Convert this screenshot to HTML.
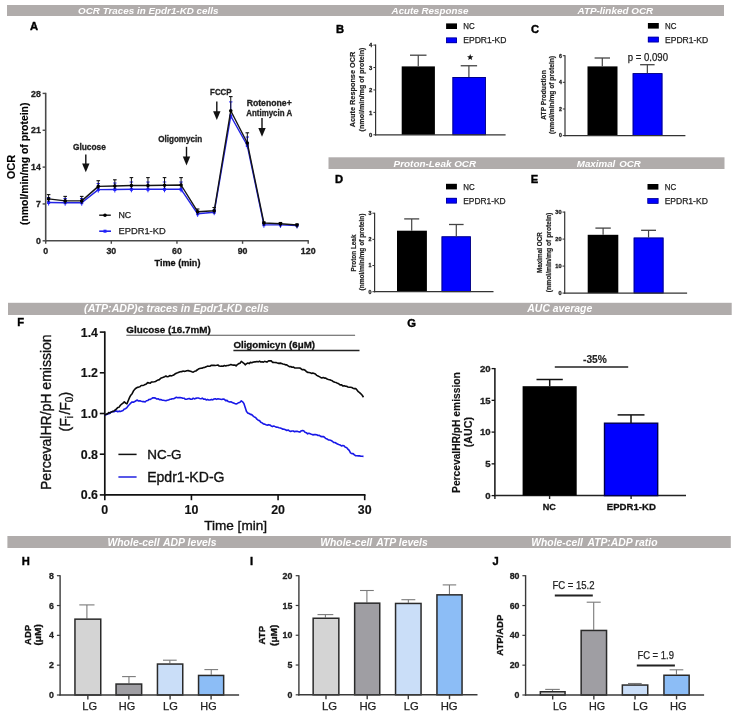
<!DOCTYPE html><html><head><meta charset="utf-8"><style>html,body{margin:0;padding:0;background:#fff;width:733px;height:716px;overflow:hidden}svg{display:block;will-change:transform}text{font-family:"Liberation Sans", sans-serif}</style></head><body><svg width="733" height="716" viewBox="0 0 733 716"><rect x="7" y="5" width="717" height="11" fill="#b0acab"/>
<rect x="328.5" y="157.3" width="396" height="11.7" fill="#b0acab"/>
<rect x="8" y="302.8" width="723.7" height="12.2" fill="#b0acab"/>
<rect x="7.4" y="536" width="723.4" height="12" fill="#b0acab"/>
<text x="78.1" y="14.3" font-size="9.9" font-weight="bold" font-style="italic" text-anchor="start" fill="#fff" textLength="140.4" lengthAdjust="spacingAndGlyphs">OCR Traces in Epdr1-KD cells</text>
<text x="391.6" y="14" font-size="9.9" font-weight="bold" font-style="italic" text-anchor="start" fill="#fff" textLength="76.8" lengthAdjust="spacingAndGlyphs">Acute Response</text>
<text x="577.5" y="14" font-size="9.9" font-weight="bold" font-style="italic" text-anchor="start" fill="#fff" textLength="75.7" lengthAdjust="spacingAndGlyphs">ATP-linked OCR</text>
<text x="393.6" y="167" font-size="9.9" font-weight="bold" font-style="italic" text-anchor="start" fill="#fff" textLength="82.6" lengthAdjust="spacingAndGlyphs">Proton-Leak OCR</text>
<text x="576.8" y="167" font-size="9.9" font-weight="bold" font-style="italic" text-anchor="start" fill="#fff" textLength="64.1" lengthAdjust="spacingAndGlyphs">Maximal <tspan dx="1.2">OCR</tspan></text>
<text x="84.1" y="312.3" font-size="10.6" font-weight="bold" font-style="italic" text-anchor="start" fill="#fff" textLength="184.7" lengthAdjust="spacingAndGlyphs">(ATP:ADP)c traces in Epdr1-KD cells</text>
<text x="527.3" y="312.2" font-size="10.5" font-weight="bold" font-style="italic" text-anchor="start" fill="#fff" textLength="65" lengthAdjust="spacingAndGlyphs">AUC average</text>
<text x="107.4" y="545.6" font-size="10.5" font-weight="bold" font-style="italic" text-anchor="start" fill="#fff" textLength="109.1" lengthAdjust="spacingAndGlyphs">Whole-cell <tspan dx="0.8">ADP levels</tspan></text>
<text x="320.2" y="545.6" font-size="10.5" font-weight="bold" font-style="italic" text-anchor="start" fill="#fff" textLength="107.5" lengthAdjust="spacingAndGlyphs">Whole-cell <tspan dx="1.5">ATP levels</tspan></text>
<text x="531.3" y="545.6" font-size="10.5" font-weight="bold" font-style="italic" text-anchor="start" fill="#fff" textLength="126.2" lengthAdjust="spacingAndGlyphs">Whole-cell <tspan dx="2">ATP:ADP ratio</tspan></text>
<text x="30" y="29.9" font-size="11.2" font-weight="bold" font-style="normal" text-anchor="start" fill="#000" stroke="#000" stroke-width="0.4">A</text>
<text x="335.9" y="33.4" font-size="11.2" font-weight="bold" font-style="normal" text-anchor="start" fill="#000" stroke="#000" stroke-width="0.4">B</text>
<text x="530.9" y="32.9" font-size="11.2" font-weight="bold" font-style="normal" text-anchor="start" fill="#000" stroke="#000" stroke-width="0.4">C</text>
<text x="335.1" y="183.2" font-size="11.2" font-weight="bold" font-style="normal" text-anchor="start" fill="#000" stroke="#000" stroke-width="0.4">D</text>
<text x="530.7" y="182.7" font-size="11.2" font-weight="bold" font-style="normal" text-anchor="start" fill="#000" stroke="#000" stroke-width="0.4">E</text>
<text x="17.2" y="326" font-size="11.2" font-weight="bold" font-style="normal" text-anchor="start" fill="#000" stroke="#000" stroke-width="0.4">F</text>
<text x="407.2" y="327.1" font-size="11.2" font-weight="bold" font-style="normal" text-anchor="start" fill="#000" stroke="#000" stroke-width="0.4">G</text>
<text x="21.8" y="564.8" font-size="11.2" font-weight="bold" font-style="normal" text-anchor="start" fill="#000" stroke="#000" stroke-width="0.4">H</text>
<text x="250.1" y="565.1" font-size="11.2" font-weight="bold" font-style="normal" text-anchor="start" fill="#000" stroke="#000" stroke-width="0.4">I</text>
<text x="492.4" y="565.1" font-size="11.2" font-weight="bold" font-style="normal" text-anchor="start" fill="#000" stroke="#000" stroke-width="0.4">J</text>
<line x1="45.7" y1="92.8" x2="45.7" y2="241.6" stroke="#4a4a4a" stroke-width="1.6"/>
<line x1="44.9" y1="240.8" x2="308.8" y2="240.8" stroke="#4a4a4a" stroke-width="1.6"/>
<line x1="42.6" y1="240.8" x2="45.7" y2="240.8" stroke="#4a4a4a" stroke-width="1.4"/>
<text x="40.8" y="243.9" font-size="8.8" font-weight="bold" font-style="normal" text-anchor="end" fill="#222" stroke="#222" stroke-width="0.3">0</text>
<line x1="42.6" y1="203.95" x2="45.7" y2="203.95" stroke="#4a4a4a" stroke-width="1.4"/>
<text x="40.8" y="207.05" font-size="8.8" font-weight="bold" font-style="normal" text-anchor="end" fill="#222" stroke="#222" stroke-width="0.3">7</text>
<line x1="42.6" y1="167.1" x2="45.7" y2="167.1" stroke="#4a4a4a" stroke-width="1.4"/>
<text x="40.8" y="170.2" font-size="8.8" font-weight="bold" font-style="normal" text-anchor="end" fill="#222" stroke="#222" stroke-width="0.3">14</text>
<line x1="42.6" y1="130.25" x2="45.7" y2="130.25" stroke="#4a4a4a" stroke-width="1.4"/>
<text x="40.8" y="133.35" font-size="8.8" font-weight="bold" font-style="normal" text-anchor="end" fill="#222" stroke="#222" stroke-width="0.3">21</text>
<line x1="42.6" y1="93.4" x2="45.7" y2="93.4" stroke="#4a4a4a" stroke-width="1.4"/>
<text x="40.8" y="96.5" font-size="8.8" font-weight="bold" font-style="normal" text-anchor="end" fill="#222" stroke="#222" stroke-width="0.3">28</text>
<line x1="45.7" y1="240.8" x2="45.7" y2="243.8" stroke="#4a4a4a" stroke-width="1.4"/>
<text x="45.7" y="253.9" font-size="8.8" font-weight="bold" font-style="normal" text-anchor="middle" fill="#222" stroke="#222" stroke-width="0.3">0</text>
<line x1="111.33" y1="240.8" x2="111.33" y2="243.8" stroke="#4a4a4a" stroke-width="1.4"/>
<text x="111.33" y="253.9" font-size="8.8" font-weight="bold" font-style="normal" text-anchor="middle" fill="#222" stroke="#222" stroke-width="0.3">30</text>
<line x1="176.95" y1="240.8" x2="176.95" y2="243.8" stroke="#4a4a4a" stroke-width="1.4"/>
<text x="176.95" y="253.9" font-size="8.8" font-weight="bold" font-style="normal" text-anchor="middle" fill="#222" stroke="#222" stroke-width="0.3">60</text>
<line x1="242.57" y1="240.8" x2="242.57" y2="243.8" stroke="#4a4a4a" stroke-width="1.4"/>
<text x="242.57" y="253.9" font-size="8.8" font-weight="bold" font-style="normal" text-anchor="middle" fill="#222" stroke="#222" stroke-width="0.3">90</text>
<line x1="308.2" y1="240.8" x2="308.2" y2="243.8" stroke="#4a4a4a" stroke-width="1.4"/>
<text x="308.2" y="253.9" font-size="8.8" font-weight="bold" font-style="normal" text-anchor="middle" fill="#222" stroke="#222" stroke-width="0.3">120</text>
<text x="177.5" y="265.6" font-size="9.1" font-weight="bold" font-style="normal" text-anchor="middle" fill="#111" stroke="#111" stroke-width="0.3">Time (min)</text>
<text x="0" y="0" transform="translate(15.4,167.1) rotate(-90)" font-size="11" font-weight="bold" font-style="normal" text-anchor="middle" fill="#000" stroke="#000" stroke-width="0.15">OCR</text>
<text x="0" y="0" transform="translate(28.2,163.8) rotate(-90)" font-size="10.4" font-weight="bold" font-style="normal" text-anchor="middle" fill="#000" stroke="#000" stroke-width="0.15">(nmol/min/mg of protein)</text>
<line x1="48.6" y1="197.5" x2="48.6" y2="205.5" stroke="#2020ff" stroke-width="1"/>
<line x1="46.9" y1="197.5" x2="50.3" y2="197.5" stroke="#2020ff" stroke-width="1"/>
<line x1="65.16" y1="198.5" x2="65.16" y2="205.7" stroke="#2020ff" stroke-width="1"/>
<line x1="63.46" y1="198.5" x2="66.86" y2="198.5" stroke="#2020ff" stroke-width="1"/>
<line x1="81.72" y1="198.5" x2="81.72" y2="205.7" stroke="#2020ff" stroke-width="1"/>
<line x1="80.02" y1="198.5" x2="83.42" y2="198.5" stroke="#2020ff" stroke-width="1"/>
<line x1="98.28" y1="183.5" x2="98.28" y2="192.6" stroke="#2020ff" stroke-width="1"/>
<line x1="96.58" y1="183.5" x2="99.98" y2="183.5" stroke="#2020ff" stroke-width="1"/>
<line x1="114.84" y1="183" x2="114.84" y2="192.5" stroke="#2020ff" stroke-width="1"/>
<line x1="113.14" y1="183" x2="116.54" y2="183" stroke="#2020ff" stroke-width="1"/>
<line x1="131.4" y1="182" x2="131.4" y2="192.3" stroke="#2020ff" stroke-width="1"/>
<line x1="129.7" y1="182" x2="133.1" y2="182" stroke="#2020ff" stroke-width="1"/>
<line x1="147.96" y1="182" x2="147.96" y2="192.3" stroke="#2020ff" stroke-width="1"/>
<line x1="146.26" y1="182" x2="149.66" y2="182" stroke="#2020ff" stroke-width="1"/>
<line x1="164.52" y1="182" x2="164.52" y2="192.3" stroke="#2020ff" stroke-width="1"/>
<line x1="162.82" y1="182" x2="166.22" y2="182" stroke="#2020ff" stroke-width="1"/>
<line x1="181.08" y1="182" x2="181.08" y2="192.3" stroke="#2020ff" stroke-width="1"/>
<line x1="179.38" y1="182" x2="182.78" y2="182" stroke="#2020ff" stroke-width="1"/>
<line x1="197.64" y1="211.5" x2="197.64" y2="216.8" stroke="#2020ff" stroke-width="1"/>
<line x1="195.94" y1="211.5" x2="199.34" y2="211.5" stroke="#2020ff" stroke-width="1"/>
<line x1="214.2" y1="210" x2="214.2" y2="215.2" stroke="#2020ff" stroke-width="1"/>
<line x1="212.5" y1="210" x2="215.9" y2="210" stroke="#2020ff" stroke-width="1"/>
<line x1="230.76" y1="101.9" x2="230.76" y2="119" stroke="#2020ff" stroke-width="1"/>
<line x1="229.06" y1="101.9" x2="232.46" y2="101.9" stroke="#2020ff" stroke-width="1"/>
<line x1="247.32" y1="137" x2="247.32" y2="148.5" stroke="#2020ff" stroke-width="1"/>
<line x1="245.62" y1="137" x2="249.02" y2="137" stroke="#2020ff" stroke-width="1"/>
<line x1="263.88" y1="223.5" x2="263.88" y2="227.7" stroke="#2020ff" stroke-width="1"/>
<line x1="262.18" y1="223.5" x2="265.58" y2="223.5" stroke="#2020ff" stroke-width="1"/>
<line x1="280.44" y1="224" x2="280.44" y2="227.9" stroke="#2020ff" stroke-width="1"/>
<line x1="278.74" y1="224" x2="282.14" y2="224" stroke="#2020ff" stroke-width="1"/>
<line x1="297" y1="224.5" x2="297" y2="228.5" stroke="#2020ff" stroke-width="1"/>
<line x1="295.3" y1="224.5" x2="298.7" y2="224.5" stroke="#2020ff" stroke-width="1"/>
<polyline points="48.6,202.5 65.16,202.7 81.72,202.7 98.28,189.6 114.84,189.5 131.4,189.3 147.96,189.3 164.52,189.3 181.08,189.3 197.64,213.8 214.2,212.2 230.76,116 247.32,145.5 263.88,224.7 280.44,224.9 297,225.5" fill="none" stroke="#2323e6" stroke-width="1.45" stroke-linejoin="round" />
<rect x="47.1" y="201" width="3" height="3" fill="#2020ff"/>
<rect x="63.66" y="201.2" width="3" height="3" fill="#2020ff"/>
<rect x="80.22" y="201.2" width="3" height="3" fill="#2020ff"/>
<rect x="96.78" y="188.1" width="3" height="3" fill="#2020ff"/>
<rect x="113.34" y="188" width="3" height="3" fill="#2020ff"/>
<rect x="129.9" y="187.8" width="3" height="3" fill="#2020ff"/>
<rect x="146.46" y="187.8" width="3" height="3" fill="#2020ff"/>
<rect x="163.02" y="187.8" width="3" height="3" fill="#2020ff"/>
<rect x="179.58" y="187.8" width="3" height="3" fill="#2020ff"/>
<rect x="196.14" y="212.3" width="3" height="3" fill="#2020ff"/>
<rect x="212.7" y="210.7" width="3" height="3" fill="#2020ff"/>
<rect x="229.26" y="114.5" width="3" height="3" fill="#2020ff"/>
<rect x="245.82" y="144" width="3" height="3" fill="#2020ff"/>
<rect x="262.38" y="223.2" width="3" height="3" fill="#2020ff"/>
<rect x="278.94" y="223.4" width="3" height="3" fill="#2020ff"/>
<rect x="295.5" y="224" width="3" height="3" fill="#2020ff"/>
<line x1="48.6" y1="194.6" x2="48.6" y2="201.9" stroke="#111" stroke-width="1"/>
<line x1="46.8" y1="194.6" x2="50.4" y2="194.6" stroke="#111" stroke-width="1.1"/>
<line x1="65.16" y1="196.4" x2="65.16" y2="203.9" stroke="#111" stroke-width="1"/>
<line x1="63.36" y1="196.4" x2="66.96" y2="196.4" stroke="#111" stroke-width="1.1"/>
<line x1="81.72" y1="196.4" x2="81.72" y2="203.9" stroke="#111" stroke-width="1"/>
<line x1="79.92" y1="196.4" x2="83.52" y2="196.4" stroke="#111" stroke-width="1.1"/>
<line x1="98.28" y1="180.7" x2="98.28" y2="189.4" stroke="#111" stroke-width="1"/>
<line x1="96.48" y1="180.7" x2="100.08" y2="180.7" stroke="#111" stroke-width="1.1"/>
<line x1="114.84" y1="179.8" x2="114.84" y2="189" stroke="#111" stroke-width="1"/>
<line x1="113.04" y1="179.8" x2="116.64" y2="179.8" stroke="#111" stroke-width="1.1"/>
<line x1="131.4" y1="177.6" x2="131.4" y2="188.5" stroke="#111" stroke-width="1"/>
<line x1="129.6" y1="177.6" x2="133.2" y2="177.6" stroke="#111" stroke-width="1.1"/>
<line x1="147.96" y1="177.6" x2="147.96" y2="188.5" stroke="#111" stroke-width="1"/>
<line x1="146.16" y1="177.6" x2="149.76" y2="177.6" stroke="#111" stroke-width="1.1"/>
<line x1="164.52" y1="177.6" x2="164.52" y2="188.3" stroke="#111" stroke-width="1"/>
<line x1="162.72" y1="177.6" x2="166.32" y2="177.6" stroke="#111" stroke-width="1.1"/>
<line x1="181.08" y1="177.6" x2="181.08" y2="188" stroke="#111" stroke-width="1"/>
<line x1="179.28" y1="177.6" x2="182.88" y2="177.6" stroke="#111" stroke-width="1.1"/>
<line x1="197.64" y1="209" x2="197.64" y2="214.7" stroke="#111" stroke-width="1"/>
<line x1="195.84" y1="209" x2="199.44" y2="209" stroke="#111" stroke-width="1.1"/>
<line x1="214.2" y1="207.5" x2="214.2" y2="213.8" stroke="#111" stroke-width="1"/>
<line x1="212.4" y1="207.5" x2="216" y2="207.5" stroke="#111" stroke-width="1.1"/>
<line x1="230.76" y1="96.6" x2="230.76" y2="113.7" stroke="#111" stroke-width="1"/>
<line x1="228.96" y1="96.6" x2="232.56" y2="96.6" stroke="#111" stroke-width="1.1"/>
<line x1="247.32" y1="132.8" x2="247.32" y2="146" stroke="#111" stroke-width="1"/>
<line x1="245.52" y1="132.8" x2="249.12" y2="132.8" stroke="#111" stroke-width="1.1"/>
<line x1="263.88" y1="222" x2="263.88" y2="226" stroke="#111" stroke-width="1"/>
<line x1="262.08" y1="222" x2="265.68" y2="222" stroke="#111" stroke-width="1.1"/>
<line x1="280.44" y1="222.5" x2="280.44" y2="226.7" stroke="#111" stroke-width="1"/>
<line x1="278.64" y1="222.5" x2="282.24" y2="222.5" stroke="#111" stroke-width="1.1"/>
<line x1="297" y1="224" x2="297" y2="228" stroke="#111" stroke-width="1"/>
<line x1="295.2" y1="224" x2="298.8" y2="224" stroke="#111" stroke-width="1.1"/>
<polyline points="48.6,198.9 65.16,200.9 81.72,200.9 98.28,186.4 114.84,186 131.4,185.5 147.96,185.5 164.52,185.3 181.08,185 197.64,211.7 214.2,210.8 230.76,110.7 247.32,143 263.88,223 280.44,223.7 297,225" fill="none" stroke="#151515" stroke-width="1.4" stroke-linejoin="round" />
<circle cx="48.6" cy="198.9" r="1.8" fill="#000"/>
<circle cx="65.16" cy="200.9" r="1.8" fill="#000"/>
<circle cx="81.72" cy="200.9" r="1.8" fill="#000"/>
<circle cx="98.28" cy="186.4" r="1.8" fill="#000"/>
<circle cx="114.84" cy="186" r="1.8" fill="#000"/>
<circle cx="131.4" cy="185.5" r="1.8" fill="#000"/>
<circle cx="147.96" cy="185.5" r="1.8" fill="#000"/>
<circle cx="164.52" cy="185.3" r="1.8" fill="#000"/>
<circle cx="181.08" cy="185" r="1.8" fill="#000"/>
<circle cx="197.64" cy="211.7" r="1.8" fill="#000"/>
<circle cx="214.2" cy="210.8" r="1.8" fill="#000"/>
<circle cx="230.76" cy="110.7" r="1.8" fill="#000"/>
<circle cx="247.32" cy="143" r="1.8" fill="#000"/>
<circle cx="263.88" cy="223" r="1.8" fill="#000"/>
<circle cx="280.44" cy="223.7" r="1.8" fill="#000"/>
<circle cx="297" cy="225" r="1.8" fill="#000"/>
<line x1="99.2" y1="215.2" x2="110.8" y2="215.2" stroke="#111" stroke-width="1.4"/>
<circle cx="105" cy="215.2" r="1.8" fill="#000"/>
<text x="118.5" y="218.4" font-size="8.8" font-weight="normal" font-style="normal" text-anchor="start" fill="#222" stroke="#222" stroke-width="0.25">NC</text>
<line x1="99.2" y1="231.2" x2="111" y2="231.2" stroke="#2323e6" stroke-width="1.6"/>
<rect x="103.5" y="229.7" width="3" height="3" fill="#2020ff"/>
<text x="118.5" y="234.4" font-size="9" font-weight="normal" font-style="normal" text-anchor="start" fill="#222" textLength="47.2" lengthAdjust="spacingAndGlyphs" stroke="#222" stroke-width="0.25">EPDR1-KD</text>
<text x="72.9" y="149.5" font-size="8.5" font-weight="bold" font-style="normal" text-anchor="start" fill="#222" textLength="33" lengthAdjust="spacingAndGlyphs" stroke="#222" stroke-width="0.3">Glucose</text>
<line x1="85.8" y1="154.6" x2="85.8" y2="164.4" stroke="#111" stroke-width="1.4"/>
<path d="M82.1,163.4 L89.5,163.4 L85.8,172.2 Z" fill="#111"/>
<text x="158.2" y="142.3" font-size="8.5" font-weight="bold" font-style="normal" text-anchor="start" fill="#222" textLength="44" lengthAdjust="spacingAndGlyphs" stroke="#222" stroke-width="0.3">Oligomycin</text>
<line x1="186.5" y1="146.8" x2="186.5" y2="157.6" stroke="#111" stroke-width="1.4"/>
<path d="M182.8,156.6 L190.2,156.6 L186.5,165.4 Z" fill="#111"/>
<text x="210.1" y="95.3" font-size="8.5" font-weight="bold" font-style="normal" text-anchor="start" fill="#222" textLength="21.5" lengthAdjust="spacingAndGlyphs" stroke="#222" stroke-width="0.3">FCCP</text>
<line x1="216.8" y1="101.5" x2="216.8" y2="112.3" stroke="#111" stroke-width="1.4"/>
<path d="M213.1,111.3 L220.5,111.3 L216.8,120.1 Z" fill="#111"/>
<text x="246.7" y="106.4" font-size="8.5" font-weight="bold" font-style="normal" text-anchor="start" fill="#222" textLength="45" lengthAdjust="spacingAndGlyphs" stroke="#222" stroke-width="0.3">Rotenone+</text>
<text x="246.3" y="115.8" font-size="8.5" font-weight="bold" font-style="normal" text-anchor="start" fill="#222" textLength="45.8" lengthAdjust="spacingAndGlyphs" stroke="#222" stroke-width="0.3">Antimycin A</text>
<line x1="262" y1="118.1" x2="262" y2="128.9" stroke="#111" stroke-width="1.4"/>
<path d="M258.3,127.9 L265.7,127.9 L262,136.7 Z" fill="#111"/>
<rect x="401.7" y="66.4" width="33.2" height="68.4" fill="#000"/>
<line x1="418.25" y1="55.2" x2="418.25" y2="66.4" stroke="#444" stroke-width="1.2"/>
<line x1="410" y1="55.2" x2="426.5" y2="55.2" stroke="#444" stroke-width="1.3"/>
<rect x="452.5" y="77" width="33.3" height="57.8" fill="#0000ff"/>
<rect x="452.9" y="77.4" width="32.5" height="57.4" fill="none" stroke="#000070" stroke-width="0.8"/>
<line x1="468.9" y1="65.75" x2="468.9" y2="77" stroke="#444" stroke-width="1.2"/>
<line x1="460.7" y1="65.75" x2="477.1" y2="65.75" stroke="#444" stroke-width="1.3"/>
<line x1="375.6" y1="44.6" x2="375.6" y2="135.4" stroke="#333" stroke-width="1.2"/>
<line x1="375" y1="134.8" x2="505.6" y2="134.8" stroke="#333" stroke-width="1.2"/>
<line x1="373.4" y1="134.8" x2="375.6" y2="134.8" stroke="#333" stroke-width="1"/>
<text x="372.4" y="136.92" font-size="5.9" font-weight="bold" font-style="normal" text-anchor="end" fill="#222" stroke="#222" stroke-width="0.3">0</text>
<line x1="373.4" y1="112.38" x2="375.6" y2="112.38" stroke="#333" stroke-width="1"/>
<text x="372.4" y="114.5" font-size="5.9" font-weight="bold" font-style="normal" text-anchor="end" fill="#222" stroke="#222" stroke-width="0.3">1</text>
<line x1="373.4" y1="89.95" x2="375.6" y2="89.95" stroke="#333" stroke-width="1"/>
<text x="372.4" y="92.07" font-size="5.9" font-weight="bold" font-style="normal" text-anchor="end" fill="#222" stroke="#222" stroke-width="0.3">2</text>
<line x1="373.4" y1="67.53" x2="375.6" y2="67.53" stroke="#333" stroke-width="1"/>
<text x="372.4" y="69.65" font-size="5.9" font-weight="bold" font-style="normal" text-anchor="end" fill="#222" stroke="#222" stroke-width="0.3">3</text>
<line x1="373.4" y1="45.1" x2="375.6" y2="45.1" stroke="#333" stroke-width="1"/>
<text x="372.4" y="47.22" font-size="5.9" font-weight="bold" font-style="normal" text-anchor="end" fill="#222" stroke="#222" stroke-width="0.3">4</text>
<text x="0" y="0" transform="translate(354.9,89.5) rotate(-90)" font-size="7.3" font-weight="bold" font-style="normal" text-anchor="middle" fill="#222" textLength="75.5" lengthAdjust="spacingAndGlyphs" stroke="#222" stroke-width="0.18">Acute Response OCR</text>
<text x="0" y="0" transform="translate(363.8,89.5) rotate(-90)" font-size="7.1" font-weight="bold" font-style="normal" text-anchor="middle" fill="#222" textLength="83.8" lengthAdjust="spacingAndGlyphs" stroke="#222" stroke-width="0.18">(nmol/min/mg of protein)</text>
<rect x="446.1" y="23.4" width="10.9" height="5.6" fill="#000"/>
<rect x="446.1" y="37.6" width="10.9" height="5.5" fill="#0000ff"/>
<rect x="446.4" y="37.9" width="10.3" height="4.9" fill="none" stroke="#000070" stroke-width="0.6"/>
<text x="463.3" y="29.2" font-size="8.9" font-weight="normal" font-style="normal" text-anchor="start" fill="#222" textLength="11.4" lengthAdjust="spacingAndGlyphs" stroke="#222" stroke-width="0.25">NC</text>
<text x="463.3" y="43.3" font-size="8.5" font-weight="normal" font-style="normal" text-anchor="start" fill="#222" textLength="43.1" lengthAdjust="spacingAndGlyphs" stroke="#222" stroke-width="0.25">EPDR1-KD</text>
<path d="M470.2,54 L471.05,56.13 L473.34,56.28 L471.58,57.75 L472.14,59.97 L470.2,58.75 L468.26,59.97 L468.82,57.75 L467.06,56.28 L469.35,56.13 Z" fill="#111"/>
<rect x="587.5" y="66.4" width="30" height="69.2" fill="#000"/>
<line x1="602.3" y1="58" x2="602.3" y2="66.4" stroke="#444" stroke-width="1.2"/>
<line x1="594.6" y1="58" x2="610" y2="58" stroke="#444" stroke-width="1.3"/>
<rect x="632.7" y="73.2" width="29.7" height="62.4" fill="#0000ff"/>
<rect x="633.1" y="73.6" width="28.9" height="62" fill="none" stroke="#000070" stroke-width="0.8"/>
<line x1="647.35" y1="64.7" x2="647.35" y2="73.2" stroke="#444" stroke-width="1.2"/>
<line x1="640.1" y1="64.7" x2="654.6" y2="64.7" stroke="#444" stroke-width="1.3"/>
<line x1="565" y1="55.2" x2="565" y2="136.2" stroke="#333" stroke-width="1.2"/>
<line x1="564.4" y1="135.6" x2="685.4" y2="135.6" stroke="#333" stroke-width="1.2"/>
<line x1="562.8" y1="135.6" x2="565" y2="135.6" stroke="#333" stroke-width="1"/>
<text x="561.8" y="137.47" font-size="5.2" font-weight="bold" font-style="normal" text-anchor="end" fill="#222" stroke="#222" stroke-width="0.3">0</text>
<line x1="562.8" y1="108.97" x2="565" y2="108.97" stroke="#333" stroke-width="1"/>
<text x="561.8" y="110.84" font-size="5.2" font-weight="bold" font-style="normal" text-anchor="end" fill="#222" stroke="#222" stroke-width="0.3">2</text>
<line x1="562.8" y1="82.33" x2="565" y2="82.33" stroke="#333" stroke-width="1"/>
<text x="561.8" y="84.21" font-size="5.2" font-weight="bold" font-style="normal" text-anchor="end" fill="#222" stroke="#222" stroke-width="0.3">4</text>
<line x1="562.8" y1="55.7" x2="565" y2="55.7" stroke="#333" stroke-width="1"/>
<text x="561.8" y="57.57" font-size="5.2" font-weight="bold" font-style="normal" text-anchor="end" fill="#222" stroke="#222" stroke-width="0.3">6</text>
<text x="0" y="0" transform="translate(545.6,95) rotate(-90)" font-size="6.6" font-weight="bold" font-style="normal" text-anchor="middle" fill="#222" textLength="49.4" lengthAdjust="spacingAndGlyphs" stroke="#222" stroke-width="0.18">ATP Production</text>
<text x="0" y="0" transform="translate(554,95) rotate(-90)" font-size="6.6" font-weight="bold" font-style="normal" text-anchor="middle" fill="#222" textLength="78" lengthAdjust="spacingAndGlyphs" stroke="#222" stroke-width="0.18">(nmol/min/mg of protein)</text>
<rect x="647.9" y="23" width="10.9" height="5.6" fill="#000"/>
<rect x="647.9" y="36.8" width="10.9" height="5.5" fill="#0000ff"/>
<rect x="648.2" y="37.1" width="10.3" height="4.9" fill="none" stroke="#000070" stroke-width="0.6"/>
<text x="665" y="28.8" font-size="8.9" font-weight="normal" font-style="normal" text-anchor="start" fill="#222" textLength="11.4" lengthAdjust="spacingAndGlyphs" stroke="#222" stroke-width="0.25">NC</text>
<text x="665" y="42.5" font-size="8.5" font-weight="normal" font-style="normal" text-anchor="start" fill="#222" textLength="43.2" lengthAdjust="spacingAndGlyphs" stroke="#222" stroke-width="0.25">EPDR1-KD</text>
<text x="627.7" y="61.1" font-size="10" font-weight="normal" font-style="normal" text-anchor="start" fill="#222" textLength="40.3" lengthAdjust="spacingAndGlyphs" stroke="#222" stroke-width="0.25">p = 0.090</text>
<rect x="397" y="230.7" width="29.9" height="61" fill="#000"/>
<line x1="411.7" y1="218.9" x2="411.7" y2="230.7" stroke="#444" stroke-width="1.2"/>
<line x1="404.2" y1="218.9" x2="419.2" y2="218.9" stroke="#444" stroke-width="1.3"/>
<rect x="441.6" y="236.4" width="29.2" height="55.3" fill="#0000ff"/>
<rect x="442" y="236.8" width="28.4" height="54.9" fill="none" stroke="#000070" stroke-width="0.8"/>
<line x1="456.3" y1="224.5" x2="456.3" y2="236.4" stroke="#444" stroke-width="1.2"/>
<line x1="449" y1="224.5" x2="463.6" y2="224.5" stroke="#444" stroke-width="1.3"/>
<line x1="374.6" y1="212.7" x2="374.6" y2="292.3" stroke="#333" stroke-width="1.2"/>
<line x1="374" y1="291.7" x2="493.5" y2="291.7" stroke="#333" stroke-width="1.2"/>
<line x1="372.4" y1="291.7" x2="374.6" y2="291.7" stroke="#333" stroke-width="1"/>
<text x="371.4" y="293.61" font-size="5.3" font-weight="bold" font-style="normal" text-anchor="end" fill="#222" stroke="#222" stroke-width="0.3">0</text>
<line x1="372.4" y1="265.53" x2="374.6" y2="265.53" stroke="#333" stroke-width="1"/>
<text x="371.4" y="267.44" font-size="5.3" font-weight="bold" font-style="normal" text-anchor="end" fill="#222" stroke="#222" stroke-width="0.3">1</text>
<line x1="372.4" y1="239.37" x2="374.6" y2="239.37" stroke="#333" stroke-width="1"/>
<text x="371.4" y="241.27" font-size="5.3" font-weight="bold" font-style="normal" text-anchor="end" fill="#222" stroke="#222" stroke-width="0.3">2</text>
<line x1="372.4" y1="213.2" x2="374.6" y2="213.2" stroke="#333" stroke-width="1"/>
<text x="371.4" y="215.11" font-size="5.3" font-weight="bold" font-style="normal" text-anchor="end" fill="#222" stroke="#222" stroke-width="0.3">3</text>
<text x="0" y="0" transform="translate(355.6,253) rotate(-90)" font-size="6.4" font-weight="bold" font-style="normal" text-anchor="middle" fill="#222" textLength="36.9" lengthAdjust="spacingAndGlyphs" stroke="#222" stroke-width="0.18">Proton Leak</text>
<text x="0" y="0" transform="translate(363.5,252) rotate(-90)" font-size="6.6" font-weight="bold" font-style="normal" text-anchor="middle" fill="#222" textLength="77" lengthAdjust="spacingAndGlyphs" stroke="#222" stroke-width="0.18">(nmol/min/mg of protein)</text>
<rect x="446" y="183.8" width="10.9" height="5.6" fill="#000"/>
<rect x="446" y="197.9" width="10.9" height="5.5" fill="#0000ff"/>
<rect x="446.3" y="198.2" width="10.3" height="4.9" fill="none" stroke="#000070" stroke-width="0.6"/>
<text x="463.2" y="189.6" font-size="8.9" font-weight="normal" font-style="normal" text-anchor="start" fill="#222" textLength="11.4" lengthAdjust="spacingAndGlyphs" stroke="#222" stroke-width="0.25">NC</text>
<text x="463.2" y="203.6" font-size="8.5" font-weight="normal" font-style="normal" text-anchor="start" fill="#222" textLength="42.5" lengthAdjust="spacingAndGlyphs" stroke="#222" stroke-width="0.25">EPDR1-KD</text>
<rect x="587.7" y="234.8" width="30.6" height="58.3" fill="#000"/>
<line x1="603.1" y1="228.1" x2="603.1" y2="234.8" stroke="#444" stroke-width="1.2"/>
<line x1="595.4" y1="228.1" x2="610.8" y2="228.1" stroke="#444" stroke-width="1.3"/>
<rect x="633.7" y="237.6" width="29.8" height="55.5" fill="#0000ff"/>
<rect x="634.1" y="238" width="29" height="55.1" fill="none" stroke="#000070" stroke-width="0.8"/>
<line x1="648.55" y1="230.3" x2="648.55" y2="237.6" stroke="#444" stroke-width="1.2"/>
<line x1="641.1" y1="230.3" x2="656" y2="230.3" stroke="#444" stroke-width="1.3"/>
<line x1="564.7" y1="211.6" x2="564.7" y2="293.7" stroke="#333" stroke-width="1.2"/>
<line x1="564.1" y1="293.1" x2="687.1" y2="293.1" stroke="#333" stroke-width="1.2"/>
<line x1="562.5" y1="293.1" x2="564.7" y2="293.1" stroke="#333" stroke-width="1"/>
<text x="561.5" y="295.12" font-size="5.6" font-weight="bold" font-style="normal" text-anchor="end" fill="#222" stroke="#222" stroke-width="0.3">0</text>
<line x1="562.5" y1="266.1" x2="564.7" y2="266.1" stroke="#333" stroke-width="1"/>
<text x="561.5" y="268.12" font-size="5.6" font-weight="bold" font-style="normal" text-anchor="end" fill="#222" stroke="#222" stroke-width="0.3">10</text>
<line x1="562.5" y1="239.1" x2="564.7" y2="239.1" stroke="#333" stroke-width="1"/>
<text x="561.5" y="241.12" font-size="5.6" font-weight="bold" font-style="normal" text-anchor="end" fill="#222" stroke="#222" stroke-width="0.3">20</text>
<line x1="562.5" y1="212.1" x2="564.7" y2="212.1" stroke="#333" stroke-width="1"/>
<text x="561.5" y="214.12" font-size="5.6" font-weight="bold" font-style="normal" text-anchor="end" fill="#222" stroke="#222" stroke-width="0.3">30</text>
<text x="0" y="0" transform="translate(542.1,252.6) rotate(-90)" font-size="6.4" font-weight="bold" font-style="normal" text-anchor="middle" fill="#222" textLength="41" lengthAdjust="spacingAndGlyphs" stroke="#222" stroke-width="0.18">Maximal OCR</text>
<text x="0" y="0" transform="translate(551,252.4) rotate(-90)" font-size="6.6" font-weight="bold" font-style="normal" text-anchor="middle" fill="#222" textLength="79.5" lengthAdjust="spacingAndGlyphs" stroke="#222" stroke-width="0.18">(nmol/min/mg of protein)</text>
<rect x="647.5" y="184" width="10.9" height="5.6" fill="#000"/>
<rect x="647.5" y="198.2" width="10.9" height="5.5" fill="#0000ff"/>
<rect x="647.8" y="198.5" width="10.3" height="4.9" fill="none" stroke="#000070" stroke-width="0.6"/>
<text x="664.7" y="189.8" font-size="8.9" font-weight="normal" font-style="normal" text-anchor="start" fill="#222" textLength="11.4" lengthAdjust="spacingAndGlyphs" stroke="#222" stroke-width="0.25">NC</text>
<text x="664.7" y="203.9" font-size="8.5" font-weight="normal" font-style="normal" text-anchor="start" fill="#222" textLength="43.1" lengthAdjust="spacingAndGlyphs" stroke="#222" stroke-width="0.25">EPDR1-KD</text>
<line x1="104.8" y1="331.4" x2="104.8" y2="495.7" stroke="#111" stroke-width="1.7"/>
<line x1="104" y1="494.9" x2="365.5" y2="494.9" stroke="#111" stroke-width="1.7"/>
<line x1="99.8" y1="494.9" x2="104.8" y2="494.9" stroke="#111" stroke-width="1.6"/>
<text x="98" y="499.3" font-size="12.4" font-weight="bold" font-style="normal" text-anchor="end" fill="#111" stroke="#111" stroke-width="0.15">0.6</text>
<line x1="99.8" y1="454.2" x2="104.8" y2="454.2" stroke="#111" stroke-width="1.6"/>
<text x="98" y="458.6" font-size="12.4" font-weight="bold" font-style="normal" text-anchor="end" fill="#111" stroke="#111" stroke-width="0.15">0.8</text>
<line x1="99.8" y1="413.5" x2="104.8" y2="413.5" stroke="#111" stroke-width="1.6"/>
<text x="98" y="417.9" font-size="12.4" font-weight="bold" font-style="normal" text-anchor="end" fill="#111" stroke="#111" stroke-width="0.15">1.0</text>
<line x1="99.8" y1="372.8" x2="104.8" y2="372.8" stroke="#111" stroke-width="1.6"/>
<text x="98" y="377.2" font-size="12.4" font-weight="bold" font-style="normal" text-anchor="end" fill="#111" stroke="#111" stroke-width="0.15">1.2</text>
<line x1="99.8" y1="332.1" x2="104.8" y2="332.1" stroke="#111" stroke-width="1.6"/>
<text x="98" y="336.5" font-size="12.4" font-weight="bold" font-style="normal" text-anchor="end" fill="#111" stroke="#111" stroke-width="0.15">1.4</text>
<line x1="104.8" y1="494.9" x2="104.8" y2="500.2" stroke="#111" stroke-width="1.6"/>
<text x="104.8" y="513.5" font-size="12.4" font-weight="bold" font-style="normal" text-anchor="middle" fill="#111" stroke="#111" stroke-width="0.15">0</text>
<line x1="191.43" y1="494.9" x2="191.43" y2="500.2" stroke="#111" stroke-width="1.6"/>
<text x="191.43" y="513.5" font-size="12.4" font-weight="bold" font-style="normal" text-anchor="middle" fill="#111" stroke="#111" stroke-width="0.15">10</text>
<line x1="278.07" y1="494.9" x2="278.07" y2="500.2" stroke="#111" stroke-width="1.6"/>
<text x="278.07" y="513.5" font-size="12.4" font-weight="bold" font-style="normal" text-anchor="middle" fill="#111" stroke="#111" stroke-width="0.15">20</text>
<line x1="364.7" y1="494.9" x2="364.7" y2="500.2" stroke="#111" stroke-width="1.6"/>
<text x="364.7" y="513.5" font-size="12.4" font-weight="bold" font-style="normal" text-anchor="middle" fill="#111" stroke="#111" stroke-width="0.15">30</text>
<text x="235.6" y="530" font-size="13.6" font-weight="normal" font-style="normal" text-anchor="middle" fill="#111" stroke="#111" stroke-width="0.35">Time [min]</text>
<text x="0" y="0" transform="translate(50.9,412.2) rotate(-90)" font-size="14" font-weight="normal" font-style="normal" text-anchor="middle" fill="#111" stroke="#111" stroke-width="0.35">PercevalHR/pH emission</text>
<g transform="translate(69.6,412.5) rotate(-90)" fill="#111" stroke="#111" stroke-width="0.35"><text x="-18.9" y="0" font-size="14">(</text><text x="-14.24" y="0" font-size="14">F</text><text x="-5.69" y="3.4" font-size="10.5">i</text><text x="-2.09" y="0" font-size="14">/</text><text x="1.8" y="0" font-size="14">F</text><text x="10.35" y="3.4" font-size="10">0</text><text x="15.91" y="0" font-size="14">)</text></g>
<text x="126.3" y="333.1" font-size="9.9" font-weight="bold" font-style="normal" text-anchor="start" fill="#111" textLength="84.4" lengthAdjust="spacingAndGlyphs" stroke="#111" stroke-width="0.3">Glucose (16.7mM)</text>
<line x1="126.3" y1="335.3" x2="355.1" y2="335.3" stroke="#555" stroke-width="1.1"/>
<text x="233.4" y="347.6" font-size="9.8" font-weight="bold" font-style="normal" text-anchor="start" fill="#111" textLength="81.6" lengthAdjust="spacingAndGlyphs" stroke="#111" stroke-width="0.3">Oligomicyn (6&#956;M)</text>
<line x1="233.4" y1="350.5" x2="359.5" y2="350.5" stroke="#222" stroke-width="1.6"/>
<line x1="118.4" y1="454.4" x2="136.6" y2="454.4" stroke="#111" stroke-width="1.5"/>
<text x="147.2" y="458.9" font-size="13.5" font-weight="normal" font-style="normal" text-anchor="start" fill="#111" textLength="34.4" lengthAdjust="spacingAndGlyphs" stroke="#111" stroke-width="0.35">NC-G</text>
<line x1="118.4" y1="477" x2="136.6" y2="477" stroke="#2020e0" stroke-width="1.5"/>
<text x="147.2" y="481.5" font-size="13.9" font-weight="normal" font-style="normal" text-anchor="start" fill="#111" textLength="77.3" lengthAdjust="spacingAndGlyphs" stroke="#111" stroke-width="0.35">Epdr1-KD-G</text>
<polyline points="104.8,415.01 106.1,414.79 107.4,414.03 108.7,413.73 110,413.19 111.3,412.02 112.6,411.4 113.9,411.85 115.2,411.14 116.5,411.04 117.8,411.8 119.1,411.14 120.4,411.47 121.7,411 123,410.51 124.3,409.04 125.6,408.64 126.9,407.59 128.2,405.74 129.5,404.52 130.8,403.05 132.1,401.92 133.4,402.22 134.7,401.57 136,400.78 137.3,400.02 138.6,401.06 139.9,400.79 141.2,401.23 142.5,401.58 143.8,401.57 145.1,401.96 146.4,400.72 147.7,400.51 149,399.46 150.3,399.34 151.6,398.62 152.9,397.75 154.2,397.91 155.5,398.11 156.8,399.05 158.1,398.79 159.4,399.58 160.7,399.62 162,400.11 163.3,400.23 164.6,400.46 165.9,400.74 167.2,400.23 168.5,400.08 169.8,399.33 171.1,399.13 172.4,398.8 173.7,398.69 175,398.09 176.3,397.27 177.6,397.79 178.9,397.65 180.2,397.65 181.5,397.71 182.8,398.3 184.1,398.18 185.4,399.3 186.7,399.24 188,398.82 189.3,398.48 190.6,399.25 191.9,399.3 193.2,398.21 194.5,398.89 195.8,398.36 197.1,397.97 198.4,398.03 199.7,398.45 201,398.69 202.3,398.16 203.6,399.17 204.9,398.93 206.2,399.92 207.5,399.42 208.8,399.95 210.1,399.98 211.4,399.39 212.7,399.86 214,399.02 215.3,398.76 216.6,399.38 217.9,398.8 219.2,399.03 220.5,399.3 221.8,399.57 223.1,399.11 224.4,399.32 225.7,400.61 227,400.39 228.3,401.53 229.6,401.94 230.9,401.84 232.2,402.41 233.5,402.96 234.8,403.57 236.1,403.99 237.4,403.43 238.7,402.68 240,402.21 241.3,400.91 242.6,401.81 243.9,403.39 245.2,407.44 246.5,411.51 247.8,413.11 249.1,413.47 250.4,414.35 251.7,414.62 253,415.91 254.3,417.01 255.6,417.44 256.9,419.15 258.2,420.21 259.5,420.63 260.8,422.2 262.1,422.88 263.4,423.97 264.7,424.12 266,424.81 267.3,425.14 268.6,424.66 269.9,425 271.2,425.97 272.5,426.59 273.8,426.1 275.1,426.63 276.4,427.17 277.7,427.27 279,427.72 280.3,428.06 281.6,428.52 282.9,429.17 284.2,429.24 285.5,429.72 286.8,430.49 288.1,430.01 289.4,430.94 290.7,431.39 292,431.03 293.3,431.04 294.6,431.79 295.9,431.27 297.2,431.33 298.5,431.71 299.8,432.1 301.1,430.89 302.4,430.46 303.7,430.76 305,432.2 306.3,432.65 307.6,433.85 308.9,433.34 310.2,433.77 311.5,434.36 312.8,434.86 314.1,434.63 315.4,434.64 316.7,434.79 318,435.51 319.3,435.41 320.6,436.35 321.9,436.65 323.2,436.55 324.5,437.31 325.8,438.54 327.1,439.01 328.4,439.84 329.7,439.98 331,440.39 332.3,441.22 333.6,442.42 334.9,442.5 336.2,443.23 337.5,443.96 338.8,444.51 340.1,444.93 341.4,445.92 342.7,445.5 344,445.77 345.3,447.23 346.6,447.59 347.9,449.14 349.2,450.41 350.5,452.85 351.8,453.64 353.1,453.59 354.4,454.89 355.7,455.71 357,455.8 358.3,455.89 359.6,455.88 360.9,456.18 362.2,456.3 363.5,456.37" fill="none" stroke="#1818e8" stroke-width="1.6" stroke-linejoin="round" />
<polyline points="104.8,415.1 106.1,414.12 107.4,414.04 108.7,412.55 110,412.84 111.3,411.96 112.6,411.57 113.9,410.85 115.2,410.05 116.5,408.9 117.8,407.47 119.1,407.17 120.4,405.24 121.7,404.08 123,403.18 124.3,401.73 125.6,403.08 126.9,403.82 128.2,400.71 129.5,397.66 130.8,395.24 132.1,393.72 133.4,391.1 134.7,389.36 136,388.22 137.3,387.39 138.6,387.1 139.9,386.75 141.2,385.45 142.5,385.57 143.8,385.15 145.1,384.46 146.4,383.92 147.7,382.63 149,383.07 150.3,383.09 151.6,381.96 152.9,381.96 154.2,381.72 155.5,381.45 156.8,380.63 158.1,379.99 159.4,379.63 160.7,378.16 162,377.68 163.3,377.22 164.6,376.68 165.9,376.07 167.2,376.76 168.5,376.51 169.8,375.54 171.1,375.88 172.4,375.56 173.7,375.01 175,373.98 176.3,373.24 177.6,372.83 178.9,372.29 180.2,371.81 181.5,371.67 182.8,371.15 184.1,371.33 185.4,371.22 186.7,370.74 188,370.6 189.3,370.9 190.6,371.3 191.9,371.74 193.2,372.12 194.5,371.34 195.8,371 197.1,370.01 198.4,369.06 199.7,368.59 201,368.33 202.3,368.15 203.6,367.44 204.9,367.33 206.2,366.67 207.5,366.11 208.8,366.19 210.1,366.13 211.4,365.23 212.7,365.4 214,365.19 215.3,365.47 216.6,365.31 217.9,365.01 219.2,365.99 220.5,366.28 221.8,366.11 223.1,366.23 224.4,365.53 225.7,365.96 227,365.46 228.3,365.38 229.6,364.95 230.9,364.48 232.2,364.94 233.5,365.13 234.8,365 236.1,365.91 237.4,364.54 238.7,363.63 240,363.26 241.3,361.4 242.6,362.36 243.9,363.29 245.2,364.86 246.5,363.67 247.8,363.09 249.1,363.58 250.4,362.37 251.7,362.76 253,362.16 254.3,361.92 255.6,361.83 256.9,361.51 258.2,361.84 259.5,361.09 260.8,361.98 262.1,361.79 263.4,362.1 264.7,361.35 266,361.87 267.3,361.88 268.6,360.73 269.9,360.83 271.2,360.9 272.5,362.33 273.8,362.4 275.1,362.44 276.4,362.62 277.7,363.13 279,363.38 280.3,363.12 281.6,363.51 282.9,363.97 284.2,364.35 285.5,364.85 286.8,364.91 288.1,365.79 289.4,366.7 290.7,366.48 292,367.24 293.3,366.99 294.6,367.85 295.9,368.03 297.2,368.05 298.5,367.99 299.8,368.07 301.1,368.81 302.4,369.74 303.7,369.56 305,370.16 306.3,371.52 307.6,372.36 308.9,372.54 310.2,372.77 311.5,373.38 312.8,373.1 314.1,373.5 315.4,374.05 316.7,375.36 318,375.95 319.3,376.64 320.6,377.4 321.9,377.94 323.2,377.46 324.5,378.16 325.8,378.09 327.1,379.04 328.4,379.41 329.7,379.72 331,380.33 332.3,380.78 333.6,381.82 334.9,382.26 336.2,382.58 337.5,383.33 338.8,383.84 340.1,384.88 341.4,384.68 342.7,385.92 344,385.67 345.3,386.11 346.6,386.28 347.9,386.99 349.2,387.29 350.5,387.32 351.8,387.56 353.1,388.16 354.4,388.64 355.7,388.46 357,390.1 358.3,391.69 359.6,392.59 360.9,393.8 362.2,395.29 363.5,397.3" fill="none" stroke="#0a0a0a" stroke-width="1.6" stroke-linejoin="round" />
<line x1="494.9" y1="368" x2="494.9" y2="496.3" stroke="#111" stroke-width="1.5"/>
<line x1="494.2" y1="495.6" x2="686" y2="495.6" stroke="#222" stroke-width="1.5"/>
<line x1="494.9" y1="495.6" x2="494.9" y2="499" stroke="#222" stroke-width="1.4"/>
<line x1="549.6" y1="495.6" x2="549.6" y2="499" stroke="#222" stroke-width="1.4"/>
<line x1="631.1" y1="495.6" x2="631.1" y2="499" stroke="#222" stroke-width="1.4"/>
<line x1="491.6" y1="495.6" x2="494.9" y2="495.6" stroke="#111" stroke-width="1.3"/>
<text x="490.7" y="498.8" font-size="9.6" font-weight="bold" font-style="normal" text-anchor="end" fill="#222" stroke="#222" stroke-width="0.3">0</text>
<line x1="491.6" y1="463.85" x2="494.9" y2="463.85" stroke="#111" stroke-width="1.3"/>
<text x="490.7" y="467.05" font-size="9.6" font-weight="bold" font-style="normal" text-anchor="end" fill="#222" stroke="#222" stroke-width="0.3">5</text>
<line x1="491.6" y1="432.1" x2="494.9" y2="432.1" stroke="#111" stroke-width="1.3"/>
<text x="490.7" y="435.3" font-size="9.6" font-weight="bold" font-style="normal" text-anchor="end" fill="#222" stroke="#222" stroke-width="0.3">10</text>
<line x1="491.6" y1="400.35" x2="494.9" y2="400.35" stroke="#111" stroke-width="1.3"/>
<text x="490.7" y="403.55" font-size="9.6" font-weight="bold" font-style="normal" text-anchor="end" fill="#222" stroke="#222" stroke-width="0.3">15</text>
<line x1="491.6" y1="368.6" x2="494.9" y2="368.6" stroke="#111" stroke-width="1.3"/>
<text x="490.7" y="371.8" font-size="9.6" font-weight="bold" font-style="normal" text-anchor="end" fill="#222" stroke="#222" stroke-width="0.3">20</text>
<rect x="522.6" y="386.2" width="54.1" height="109.4" fill="#000"/>
<rect x="604.5" y="423.2" width="53.2" height="72.4" fill="#0000ff" stroke="#000050" stroke-width="1.4"/>
<line x1="549.7" y1="379.5" x2="549.7" y2="386.2" stroke="#111" stroke-width="1.5"/>
<line x1="536.5" y1="379.5" x2="562.8" y2="379.5" stroke="#111" stroke-width="1.5"/>
<line x1="631" y1="414.9" x2="631" y2="423" stroke="#111" stroke-width="1.5"/>
<line x1="617.6" y1="414.9" x2="644.5" y2="414.9" stroke="#111" stroke-width="1.5"/>
<text x="594.9" y="362.6" font-size="10.2" font-weight="bold" font-style="normal" text-anchor="middle" fill="#222" textLength="23.8" lengthAdjust="spacingAndGlyphs" stroke="#222" stroke-width="0.15">-35%</text>
<line x1="554.8" y1="367.1" x2="628.2" y2="367.1" stroke="#222" stroke-width="1.5"/>
<text x="549.2" y="510.4" font-size="9.2" font-weight="bold" font-style="normal" text-anchor="middle" fill="#111" textLength="13.1" lengthAdjust="spacingAndGlyphs" stroke="#111" stroke-width="0.3">NC</text>
<text x="631.3" y="510.4" font-size="9.6" font-weight="bold" font-style="normal" text-anchor="middle" fill="#111" textLength="49.1" lengthAdjust="spacingAndGlyphs" stroke="#111" stroke-width="0.3">EPDR1-KD</text>
<text x="0" y="0" transform="translate(460,432.6) rotate(-90)" font-size="10.3" font-weight="bold" font-style="normal" text-anchor="middle" fill="#111" textLength="120.7" lengthAdjust="spacingAndGlyphs" stroke="#111" stroke-width="0.15">PercevalHR/pH emission</text>
<text x="0" y="0" transform="translate(472.4,432.1) rotate(-90)" font-size="10.6" font-weight="bold" font-style="normal" text-anchor="middle" fill="#111" textLength="30.2" lengthAdjust="spacingAndGlyphs" stroke="#111" stroke-width="0.15">(AUC)</text>
<line x1="60.1" y1="575.2" x2="60.1" y2="695.6" stroke="#3a3a3a" stroke-width="1.4"/>
<line x1="56.9" y1="695" x2="60.1" y2="695" stroke="#3a3a3a" stroke-width="1.2"/>
<text x="53.8" y="698.1" font-size="8.8" font-weight="bold" font-style="normal" text-anchor="end" fill="#222" stroke="#222" stroke-width="0.3">0</text>
<line x1="56.9" y1="665.17" x2="60.1" y2="665.17" stroke="#3a3a3a" stroke-width="1.2"/>
<text x="53.8" y="668.27" font-size="8.8" font-weight="bold" font-style="normal" text-anchor="end" fill="#222" stroke="#222" stroke-width="0.3">2</text>
<line x1="56.9" y1="635.35" x2="60.1" y2="635.35" stroke="#3a3a3a" stroke-width="1.2"/>
<text x="53.8" y="638.45" font-size="8.8" font-weight="bold" font-style="normal" text-anchor="end" fill="#222" stroke="#222" stroke-width="0.3">4</text>
<line x1="56.9" y1="605.53" x2="60.1" y2="605.53" stroke="#3a3a3a" stroke-width="1.2"/>
<text x="53.8" y="608.63" font-size="8.8" font-weight="bold" font-style="normal" text-anchor="end" fill="#222" stroke="#222" stroke-width="0.3">6</text>
<line x1="56.9" y1="575.7" x2="60.1" y2="575.7" stroke="#3a3a3a" stroke-width="1.2"/>
<text x="53.8" y="578.8" font-size="8.8" font-weight="bold" font-style="normal" text-anchor="end" fill="#222" stroke="#222" stroke-width="0.3">8</text>
<line x1="86.9" y1="604.9" x2="86.9" y2="618.4" stroke="#7a7a7a" stroke-width="1.1"/>
<line x1="79.3" y1="604.9" x2="94.5" y2="604.9" stroke="#7a7a7a" stroke-width="1.1"/>
<rect x="74.95" y="619.15" width="25.8" height="75.85" fill="#d4d4d4" stroke="#2a2a2a" stroke-width="1.5"/>
<line x1="87.85" y1="695" x2="87.85" y2="699.4" stroke="#3a3a3a" stroke-width="1.4"/>
<text x="82.3" y="710.3" font-size="10.9" font-weight="normal" font-style="normal" text-anchor="start" fill="#222" textLength="14.8" lengthAdjust="spacingAndGlyphs" stroke="#222" stroke-width="0.25">LG</text>
<line x1="128.95" y1="676.6" x2="128.95" y2="683.3" stroke="#7a7a7a" stroke-width="1.1"/>
<line x1="122.1" y1="676.6" x2="135.8" y2="676.6" stroke="#7a7a7a" stroke-width="1.1"/>
<rect x="116.05" y="684.05" width="25.6" height="10.95" fill="#9f9ea3" stroke="#2a2a2a" stroke-width="1.5"/>
<line x1="128.85" y1="695" x2="128.85" y2="699.4" stroke="#3a3a3a" stroke-width="1.4"/>
<text x="118.8" y="710.3" font-size="10.9" font-weight="normal" font-style="normal" text-anchor="start" fill="#222" textLength="16.4" lengthAdjust="spacingAndGlyphs" stroke="#222" stroke-width="0.25">HG</text>
<line x1="169.85" y1="660.2" x2="169.85" y2="663.3" stroke="#7a7a7a" stroke-width="1.1"/>
<line x1="163" y1="660.2" x2="176.7" y2="660.2" stroke="#7a7a7a" stroke-width="1.1"/>
<rect x="157.45" y="664.05" width="25.3" height="30.95" fill="#cadef8" stroke="#2a2a2a" stroke-width="1.5"/>
<line x1="170.1" y1="695" x2="170.1" y2="699.4" stroke="#3a3a3a" stroke-width="1.4"/>
<text x="163" y="710.3" font-size="10.9" font-weight="normal" font-style="normal" text-anchor="start" fill="#222" textLength="14.8" lengthAdjust="spacingAndGlyphs" stroke="#222" stroke-width="0.25">LG</text>
<line x1="211.25" y1="669.6" x2="211.25" y2="674.7" stroke="#7a7a7a" stroke-width="1.1"/>
<line x1="204.4" y1="669.6" x2="218.1" y2="669.6" stroke="#7a7a7a" stroke-width="1.1"/>
<rect x="198.55" y="675.45" width="25.1" height="19.55" fill="#8cbdf6" stroke="#2a2a2a" stroke-width="1.5"/>
<line x1="211.1" y1="695" x2="211.1" y2="699.4" stroke="#3a3a3a" stroke-width="1.4"/>
<text x="200.3" y="710.3" font-size="10.9" font-weight="normal" font-style="normal" text-anchor="start" fill="#222" textLength="16.3" lengthAdjust="spacingAndGlyphs" stroke="#222" stroke-width="0.25">HG</text>
<line x1="59.4" y1="695" x2="239.1" y2="695" stroke="#3a3a3a" stroke-width="1.4"/>
<text x="0" y="0" transform="translate(30.7,634.9) rotate(-90)" font-size="9.5" font-weight="bold" font-style="normal" text-anchor="middle" fill="#111" textLength="20" lengthAdjust="spacingAndGlyphs" stroke="#111" stroke-width="0.3">ADP</text>
<text x="0" y="0" transform="translate(41.2,634.9) rotate(-90)" font-size="9" font-weight="bold" font-style="normal" text-anchor="middle" fill="#111" textLength="21.4" lengthAdjust="spacingAndGlyphs" stroke="#111" stroke-width="0.3">(&#956;M)</text>
<line x1="298.9" y1="575.2" x2="298.9" y2="695.4" stroke="#3a3a3a" stroke-width="1.4"/>
<line x1="295.7" y1="694.8" x2="298.9" y2="694.8" stroke="#3a3a3a" stroke-width="1.2"/>
<text x="292.3" y="697.9" font-size="8.8" font-weight="bold" font-style="normal" text-anchor="end" fill="#222" stroke="#222" stroke-width="0.3">0</text>
<line x1="295.7" y1="665.02" x2="298.9" y2="665.02" stroke="#3a3a3a" stroke-width="1.2"/>
<text x="292.3" y="668.12" font-size="8.8" font-weight="bold" font-style="normal" text-anchor="end" fill="#222" stroke="#222" stroke-width="0.3">5</text>
<line x1="295.7" y1="635.25" x2="298.9" y2="635.25" stroke="#3a3a3a" stroke-width="1.2"/>
<text x="292.3" y="638.35" font-size="8.8" font-weight="bold" font-style="normal" text-anchor="end" fill="#222" stroke="#222" stroke-width="0.3">10</text>
<line x1="295.7" y1="605.48" x2="298.9" y2="605.48" stroke="#3a3a3a" stroke-width="1.2"/>
<text x="292.3" y="608.58" font-size="8.8" font-weight="bold" font-style="normal" text-anchor="end" fill="#222" stroke="#222" stroke-width="0.3">15</text>
<line x1="295.7" y1="575.7" x2="298.9" y2="575.7" stroke="#3a3a3a" stroke-width="1.2"/>
<text x="292.3" y="578.8" font-size="8.8" font-weight="bold" font-style="normal" text-anchor="end" fill="#222" stroke="#222" stroke-width="0.3">20</text>
<line x1="325.4" y1="614.6" x2="325.4" y2="617.5" stroke="#7a7a7a" stroke-width="1.1"/>
<line x1="317.5" y1="614.6" x2="333.3" y2="614.6" stroke="#7a7a7a" stroke-width="1.1"/>
<rect x="313.15" y="618.25" width="25.7" height="76.55" fill="#d4d4d4" stroke="#2a2a2a" stroke-width="1.5"/>
<line x1="326" y1="694.8" x2="326" y2="699.2" stroke="#3a3a3a" stroke-width="1.4"/>
<text x="322" y="710.3" font-size="10.9" font-weight="normal" font-style="normal" text-anchor="start" fill="#222" textLength="15.1" lengthAdjust="spacingAndGlyphs" stroke="#222" stroke-width="0.25">LG</text>
<line x1="366.9" y1="590.5" x2="366.9" y2="602.4" stroke="#7a7a7a" stroke-width="1.1"/>
<line x1="360" y1="590.5" x2="373.8" y2="590.5" stroke="#7a7a7a" stroke-width="1.1"/>
<rect x="354.65" y="603.15" width="25.1" height="91.65" fill="#9f9ea3" stroke="#2a2a2a" stroke-width="1.5"/>
<line x1="367.2" y1="694.8" x2="367.2" y2="699.2" stroke="#3a3a3a" stroke-width="1.4"/>
<text x="359.4" y="710.3" font-size="10.9" font-weight="normal" font-style="normal" text-anchor="start" fill="#222" textLength="17" lengthAdjust="spacingAndGlyphs" stroke="#222" stroke-width="0.25">HG</text>
<line x1="408.35" y1="599.7" x2="408.35" y2="602.7" stroke="#7a7a7a" stroke-width="1.1"/>
<line x1="401.4" y1="599.7" x2="415.3" y2="599.7" stroke="#7a7a7a" stroke-width="1.1"/>
<rect x="395.55" y="603.45" width="25.5" height="91.35" fill="#cadef8" stroke="#2a2a2a" stroke-width="1.5"/>
<line x1="408.3" y1="694.8" x2="408.3" y2="699.2" stroke="#3a3a3a" stroke-width="1.4"/>
<text x="403.8" y="710.3" font-size="10.9" font-weight="normal" font-style="normal" text-anchor="start" fill="#222" textLength="15" lengthAdjust="spacingAndGlyphs" stroke="#222" stroke-width="0.25">LG</text>
<line x1="449.45" y1="584.9" x2="449.45" y2="594.1" stroke="#7a7a7a" stroke-width="1.1"/>
<line x1="442.7" y1="584.9" x2="456.2" y2="584.9" stroke="#7a7a7a" stroke-width="1.1"/>
<rect x="436.95" y="594.85" width="25.1" height="99.95" fill="#8cbdf6" stroke="#2a2a2a" stroke-width="1.5"/>
<line x1="449.5" y1="694.8" x2="449.5" y2="699.2" stroke="#3a3a3a" stroke-width="1.4"/>
<text x="440.7" y="710.3" font-size="10.9" font-weight="normal" font-style="normal" text-anchor="start" fill="#222" textLength="17" lengthAdjust="spacingAndGlyphs" stroke="#222" stroke-width="0.25">HG</text>
<line x1="298.2" y1="694.8" x2="477.5" y2="694.8" stroke="#3a3a3a" stroke-width="1.4"/>
<text x="0" y="0" transform="translate(264.7,635.1) rotate(-90)" font-size="9.6" font-weight="bold" font-style="normal" text-anchor="middle" fill="#111" textLength="18.6" lengthAdjust="spacingAndGlyphs" stroke="#111" stroke-width="0.3">ATP</text>
<text x="0" y="0" transform="translate(277.2,635.3) rotate(-90)" font-size="9" font-weight="bold" font-style="normal" text-anchor="middle" fill="#111" textLength="21.3" lengthAdjust="spacingAndGlyphs" stroke="#111" stroke-width="0.3">(&#956;M)</text>
<line x1="525.6" y1="575.2" x2="525.6" y2="695.6" stroke="#3a3a3a" stroke-width="1.4"/>
<line x1="522.4" y1="695" x2="525.6" y2="695" stroke="#3a3a3a" stroke-width="1.2"/>
<text x="519.5" y="698.1" font-size="8.8" font-weight="bold" font-style="normal" text-anchor="end" fill="#222" stroke="#222" stroke-width="0.3">0</text>
<line x1="522.4" y1="665.17" x2="525.6" y2="665.17" stroke="#3a3a3a" stroke-width="1.2"/>
<text x="519.5" y="668.27" font-size="8.8" font-weight="bold" font-style="normal" text-anchor="end" fill="#222" stroke="#222" stroke-width="0.3">20</text>
<line x1="522.4" y1="635.35" x2="525.6" y2="635.35" stroke="#3a3a3a" stroke-width="1.2"/>
<text x="519.5" y="638.45" font-size="8.8" font-weight="bold" font-style="normal" text-anchor="end" fill="#222" stroke="#222" stroke-width="0.3">40</text>
<line x1="522.4" y1="605.53" x2="525.6" y2="605.53" stroke="#3a3a3a" stroke-width="1.2"/>
<text x="519.5" y="608.63" font-size="8.8" font-weight="bold" font-style="normal" text-anchor="end" fill="#222" stroke="#222" stroke-width="0.3">60</text>
<line x1="522.4" y1="575.7" x2="525.6" y2="575.7" stroke="#3a3a3a" stroke-width="1.2"/>
<text x="519.5" y="578.8" font-size="8.8" font-weight="bold" font-style="normal" text-anchor="end" fill="#222" stroke="#222" stroke-width="0.3">80</text>
<line x1="552.5" y1="689.4" x2="552.5" y2="691" stroke="#7a7a7a" stroke-width="1.1"/>
<line x1="545.2" y1="689.4" x2="559.8" y2="689.4" stroke="#7a7a7a" stroke-width="1.1"/>
<rect x="540.35" y="691.75" width="24.7" height="3.25" fill="#d4d4d4" stroke="#2a2a2a" stroke-width="1.5"/>
<line x1="552.7" y1="695" x2="552.7" y2="699.4" stroke="#3a3a3a" stroke-width="1.4"/>
<text x="553" y="710.3" font-size="10.9" font-weight="normal" font-style="normal" text-anchor="start" fill="#222" textLength="14" lengthAdjust="spacingAndGlyphs" stroke="#222" stroke-width="0.25">LG</text>
<line x1="593.7" y1="602.2" x2="593.7" y2="629.7" stroke="#7a7a7a" stroke-width="1.1"/>
<line x1="586.7" y1="602.2" x2="600.7" y2="602.2" stroke="#7a7a7a" stroke-width="1.1"/>
<rect x="581.15" y="630.45" width="25.4" height="64.55" fill="#9f9ea3" stroke="#2a2a2a" stroke-width="1.5"/>
<line x1="593.85" y1="695" x2="593.85" y2="699.4" stroke="#3a3a3a" stroke-width="1.4"/>
<text x="589" y="710.3" font-size="10.9" font-weight="normal" font-style="normal" text-anchor="start" fill="#222" textLength="16.2" lengthAdjust="spacingAndGlyphs" stroke="#222" stroke-width="0.25">HG</text>
<line x1="634.85" y1="683.5" x2="634.85" y2="684.3" stroke="#7a7a7a" stroke-width="1.1"/>
<line x1="628" y1="683.5" x2="641.7" y2="683.5" stroke="#7a7a7a" stroke-width="1.1"/>
<rect x="622.35" y="685.05" width="25.4" height="9.95" fill="#cadef8" stroke="#2a2a2a" stroke-width="1.5"/>
<line x1="635.05" y1="695" x2="635.05" y2="699.4" stroke="#3a3a3a" stroke-width="1.4"/>
<text x="632.9" y="710.3" font-size="10.9" font-weight="normal" font-style="normal" text-anchor="start" fill="#222" textLength="15" lengthAdjust="spacingAndGlyphs" stroke="#222" stroke-width="0.25">LG</text>
<line x1="676.45" y1="669.8" x2="676.45" y2="674.5" stroke="#7a7a7a" stroke-width="1.1"/>
<line x1="669.6" y1="669.8" x2="683.3" y2="669.8" stroke="#7a7a7a" stroke-width="1.1"/>
<rect x="663.95" y="675.25" width="25.2" height="19.75" fill="#8cbdf6" stroke="#2a2a2a" stroke-width="1.5"/>
<line x1="676.55" y1="695" x2="676.55" y2="699.4" stroke="#3a3a3a" stroke-width="1.4"/>
<text x="670" y="710.3" font-size="10.9" font-weight="normal" font-style="normal" text-anchor="start" fill="#222" textLength="16.6" lengthAdjust="spacingAndGlyphs" stroke="#222" stroke-width="0.25">HG</text>
<line x1="524.9" y1="695" x2="704.1" y2="695" stroke="#3a3a3a" stroke-width="1.4"/>
<text x="0" y="0" transform="translate(503.4,635.2) rotate(-90)" font-size="9.5" font-weight="bold" font-style="normal" text-anchor="middle" fill="#111" textLength="41" lengthAdjust="spacingAndGlyphs" stroke="#111" stroke-width="0.3">ATP/ADP</text>
<text x="552.4" y="589.2" font-size="10.6" font-weight="normal" font-style="normal" text-anchor="start" fill="#222" textLength="42.2" lengthAdjust="spacingAndGlyphs" stroke="#222" stroke-width="0.25">FC = 15.2</text>
<line x1="554.8" y1="595.4" x2="592.8" y2="595.4" stroke="#222" stroke-width="2"/>
<text x="637.4" y="658.5" font-size="10.6" font-weight="normal" font-style="normal" text-anchor="start" fill="#222" textLength="36.5" lengthAdjust="spacingAndGlyphs" stroke="#222" stroke-width="0.25">FC = 1.9</text>
<line x1="636.8" y1="665.5" x2="674.9" y2="665.5" stroke="#222" stroke-width="2"/></svg></body></html>
